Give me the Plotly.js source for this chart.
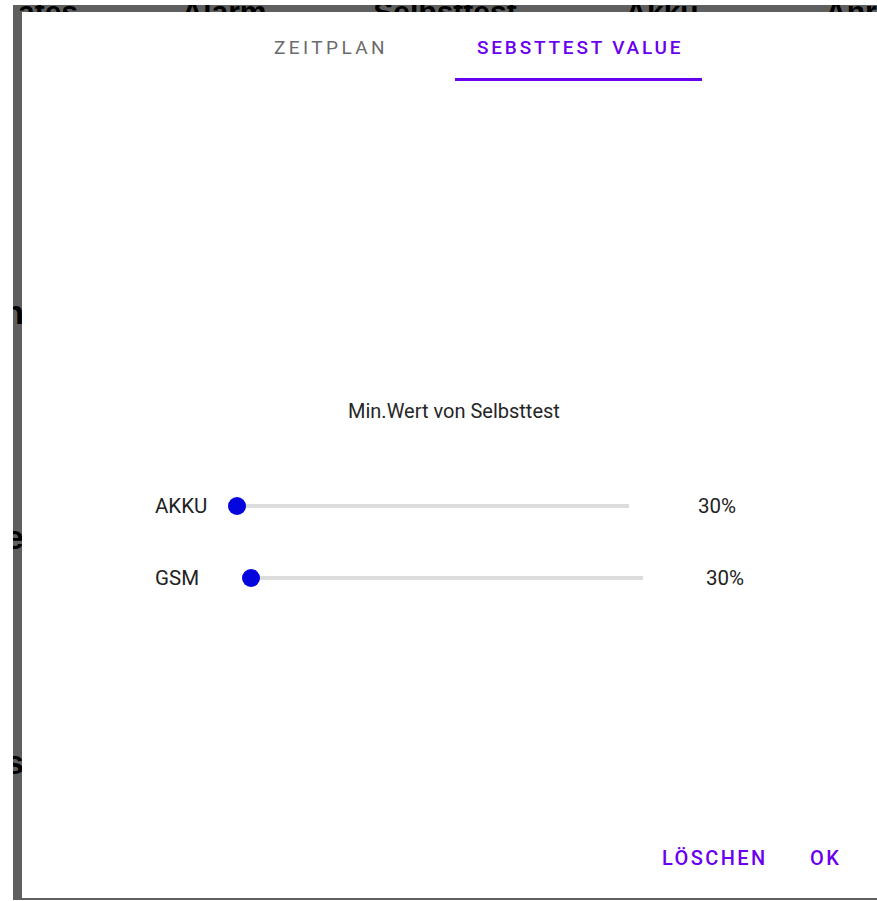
<!DOCTYPE html>
<html>
<head>
<meta charset="utf-8">
<script src="https://cdn.plot.ly/plotly-3.0.1.min.js"></script>
<style>html,body{margin:0;padding:0;background:#fff;}#chart{width:877px;height:901px;}</style>
</head>
<body>
<div id="chart"></div>
<script>
// ---- data ----
var tabLabels = ["ZEITPLAN", "SEBSTTEST VALUE"];
var sectionTitle = "Min.Wert von Selbsttest";
var sliderLabels = ["AKKU", "GSM"];
var sliderValues = [30, 30];
var sliderMin = [30, 30];
var sliderMax = [100, 100];
var valueSuffix = "%";
var buttonLabels = ["LÖSCHEN", "OK"];
var headerWords = ["ates", "Alarm", "Selbsttest", "Akku", "Anru"];
var sideLetters = ["n", "e", "s"];

// ---- layout helpers ----
var W = 877, H = 901;
function px(x) { return x / W; }
function py(y) { return 1 - y / H; }
var PURPLE = "#6a00f0";
var BLUE = "#0505de";
var TRACK = "#dcdcdc";
function spaced(t, s) { return '<span style="letter-spacing:' + s + 'px">' + t + '</span>'; }

var traces = [];
// slider tracks + thumbs (one x axis per slider row)
var axNames = ["x", "x2"];
for (var i = 0; i < sliderLabels.length; i++) {
  traces.push({
    type: "scatter", mode: "lines", xaxis: axNames[i], yaxis: "y",
    x: [sliderMin[i], sliderMax[i]], y: [sliderLabels[i], sliderLabels[i]],
    line: { color: TRACK, width: 4 }, hoverinfo: "skip", showlegend: false, cliponaxis: false
  });
}
for (var j = 0; j < sliderLabels.length; j++) {
  traces.push({
    type: "scatter", mode: "markers", xaxis: axNames[j], yaxis: "y",
    x: [sliderValues[j]], y: [sliderLabels[j]],
    marker: { color: BLUE, size: 18, line: { width: 0 } },
    hoverinfo: "skip", showlegend: false, cliponaxis: false
  });
}
// background (dimmed) table text, clipped by subplots
var headerPos = [78, 224, 445, 662, 825];
var headerAnchor = ["middle left", "middle center", "middle center", "middle center", "middle right"];
traces.push({
  type: "scatter", mode: "text", xaxis: "x3", yaxis: "y3",
  x: headerPos, y: [14, 14, 14, 14, 14], text: headerWords, textposition: headerAnchor,
  textfont: { family: "Liberation Sans, Arial", size: 30, color: "#000", weight: "bold" },
  hoverinfo: "skip", showlegend: false, cliponaxis: true
});
traces.push({
  type: "scatter", mode: "text", xaxis: "x4", yaxis: "y4",
  x: [24, 24, 24], y: [315, 540, 765], text: sideLetters, textposition: "middle left",
  textfont: { family: "Liberation Sans, Arial", size: 34, color: "#000", weight: "bold" },
  hoverinfo: "skip", showlegend: false, cliponaxis: true
});

var annotations = [];
var tabX = [331, 580];
var tabColor = ["#6b6b6b", PURPLE];
var tabWeight = [400, 500];
var tabSpacing = [3.4, 2.8];
for (var t = 0; t < tabLabels.length; t++) {
  annotations.push({
    xref: "paper", yref: "paper", x: px(tabX[t]), y: py(47), xanchor: "center", yanchor: "middle",
    text: spaced(tabLabels[t], tabSpacing[t]), showarrow: false,
    font: { family: "Roboto", size: 19, color: tabColor[t], weight: tabWeight[t] }
  });
}
annotations.push({
  xref: "paper", yref: "paper", x: px(454.5), y: py(411), xanchor: "center", yanchor: "middle",
  text: sectionTitle, showarrow: false,
  font: { family: "Roboto", size: 20, color: "#262626" }
});
var valShift = [67, 61];
var domRef = ["x domain", "x2 domain"];
for (var k = 0; k < sliderLabels.length; k++) {
  annotations.push({
    xref: "paper", yref: "y", x: px(153), y: sliderLabels[k], xanchor: "left", yanchor: "middle",
    text: sliderLabels[k], showarrow: false,
    font: { family: "Roboto", size: 20.5, color: "#222" }
  });
  annotations.push({
    xref: domRef[k], yref: "y", x: 1, y: sliderLabels[k], xanchor: "left", yanchor: "middle",
    xshift: valShift[k], text: sliderValues[k] + valueSuffix, showarrow: false,
    font: { family: "Roboto", size: 20.5, color: "#222" }
  });
}
var btnX = [714.5, 825.5];
for (var b = 0; b < buttonLabels.length; b++) {
  annotations.push({
    xref: "paper", yref: "paper", x: px(btnX[b]), y: py(858), xanchor: "center", yanchor: "middle",
    text: spaced(buttonLabels[b], 2.4), showarrow: false,
    font: { family: "Roboto", size: 20, color: PURPLE, weight: 500 }
  });
}

var shapes = [
  { type: "rect", xref: "paper", yref: "paper", x0: px(13), x1: 1, y0: py(900), y1: py(5),
    fillcolor: "#5f5f5f", line: { width: 0 }, layer: "below" },
  { type: "rect", xref: "paper", yref: "paper", x0: px(22), x1: 1, y0: py(898), y1: py(12),
    fillcolor: "#ffffff", line: { width: 0 }, layer: "below" },
  { type: "rect", xref: "paper", yref: "paper", x0: px(455), x1: px(702), y0: py(81), y1: py(78),
    fillcolor: PURPLE, line: { width: 0 }, layer: "below" }
];

var hidden = { visible: false, fixedrange: true };
var layout = {
  width: W, height: H, margin: { l: 0, r: 0, t: 0, b: 0, pad: 0 },
  paper_bgcolor: "#ffffff", plot_bgcolor: "rgba(0,0,0,0)", showlegend: false,
  xaxis: Object.assign({ domain: [px(237), px(629)], range: [sliderMin[0], sliderMax[0]], anchor: "y" }, hidden),
  xaxis2: Object.assign({ domain: [px(251), px(643)], range: [sliderMin[1], sliderMax[1]], anchor: "y" }, hidden),
  yaxis: Object.assign({ domain: [0, 1], type: "category", categoryarray: sliderLabels,
    categoryorder: "array", range: [5.486, -7.028], anchor: "x" }, hidden),
  xaxis3: Object.assign({ domain: [px(13), 1], range: [13, 877], anchor: "y3" }, hidden),
  yaxis3: Object.assign({ domain: [py(12), py(5)], range: [12, 5], anchor: "x3" }, hidden),
  xaxis4: Object.assign({ domain: [px(13), px(22)], range: [13, 22], anchor: "y4" }, hidden),
  yaxis4: Object.assign({ domain: [py(898), py(12)], range: [898, 12], anchor: "x4" }, hidden),
  shapes: shapes, annotations: annotations, hovermode: false
};

Plotly.newPlot("chart", traces, layout, { staticPlot: true, displayModeBar: false });
</script>
</body>
</html>
